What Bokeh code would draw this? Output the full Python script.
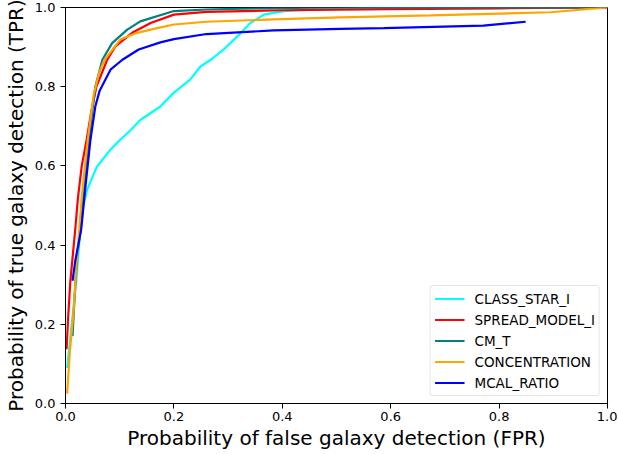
from bokeh.plotting import figure
from bokeh.models import Range1d, FixedTicker, PrintfTickFormatter, Legend, LegendItem
from bokeh.embed import file_html
from bokeh.resources import INLINE

# ROC curves
class_star_fpr = [0.003, 0.01, 0.02, 0.025, 0.031, 0.04, 0.058, 0.083, 0.101, 0.12, 0.138, 0.175, 0.2, 0.23, 0.249, 0.268, 0.292, 0.317, 0.341, 0.366, 0.403, 0.465, 0.55, 0.7, 1.0]
class_star_tpr = [0.09, 0.18, 0.31, 0.40, 0.489, 0.54, 0.598, 0.641, 0.666, 0.69, 0.716, 0.75, 0.785, 0.818, 0.851, 0.868, 0.894, 0.927, 0.961, 0.982, 0.991, 0.995, 0.998, 0.999, 1.0]

spread_fpr = [0.002, 0.005, 0.009, 0.018, 0.023, 0.03, 0.039, 0.048, 0.057, 0.077, 0.092, 0.123, 0.157, 0.2, 0.26, 0.4, 0.6, 0.8, 1.0]
spread_tpr = [0.137, 0.22, 0.31, 0.44, 0.52, 0.60, 0.666, 0.74, 0.80, 0.868, 0.902, 0.936, 0.961, 0.982, 0.989, 0.993, 0.996, 0.998, 1.0]

cm_t_fpr = [0.013, 0.018, 0.022, 0.028, 0.035, 0.043, 0.055, 0.068, 0.086, 0.114, 0.138, 0.2, 0.26, 0.35, 0.5, 1.0]
cm_t_tpr = [0.17, 0.30, 0.38, 0.44, 0.56, 0.666, 0.80, 0.868, 0.91, 0.944, 0.965, 0.991, 0.995, 0.998, 1.0, 1.0]

conc_fpr = [0.003, 0.008, 0.015, 0.02, 0.03, 0.041, 0.052, 0.062, 0.072, 0.101, 0.132, 0.169, 0.2, 0.26, 0.384, 0.507, 0.673, 0.895, 1.0]
conc_tpr = [0.025, 0.13, 0.235, 0.345, 0.52, 0.666, 0.78, 0.835, 0.868, 0.919, 0.936, 0.948, 0.957, 0.964, 0.970, 0.975, 0.98, 0.988, 1.0]

mcal_fpr = [0.013, 0.018, 0.029, 0.037, 0.046, 0.055, 0.063, 0.083, 0.105, 0.135, 0.175, 0.2, 0.26, 0.384, 0.507, 0.587, 0.771, 0.849]
mcal_tpr = [0.31, 0.36, 0.44, 0.55, 0.666, 0.75, 0.79, 0.843, 0.868, 0.894, 0.912, 0.92, 0.933, 0.942, 0.946, 0.948, 0.954, 0.964]

series_names = ["CLASS_STAR_I", "SPREAD_MODEL_I", "CM_T", "CONCENTRATION", "MCAL_RATIO"]
series_colors = ["#00FFFF", "#FF0000", "#008080", "#FFA500", "#0000FF"]
series_x = [class_star_fpr, spread_fpr, cm_t_fpr, conc_fpr, mcal_fpr]
series_y = [class_star_tpr, spread_tpr, cm_t_tpr, conc_tpr, mcal_tpr]

tick_values = [0.0, 0.2, 0.4, 0.6, 0.8, 1.0]

FONT = "DejaVu Sans"

p = figure(width=617, height=452, output_backend="svg", toolbar_location=None,
           x_range=Range1d(0, 1), y_range=Range1d(0, 1),
           min_border_top=7, min_border_right=10, min_border_left=0, min_border_bottom=0)

p.xgrid.visible = False
p.ygrid.visible = False
p.outline_line_color = "black"
p.outline_line_width = 1
p.outline_line_alpha = 1

for ax in (p.xaxis[0], p.yaxis[0]):
    ax.ticker = FixedTicker(ticks=tick_values)
    ax.formatter = PrintfTickFormatter(format="%.1f")
    ax.major_tick_in = 0
    ax.major_tick_out = 5
    ax.minor_tick_in = 0
    ax.minor_tick_out = 0
    ax.axis_line_color = "black"
    ax.major_tick_line_color = "black"
    ax.major_label_text_font = FONT
    ax.major_label_text_font_size = "13px"
    ax.major_label_text_color = "black"
    ax.axis_label_text_font = FONT
    ax.axis_label_text_font_size = "20px"
    ax.axis_label_text_font_style = "normal"
    ax.axis_label_text_color = "black"

p.xaxis.major_label_standoff = 3
p.yaxis.major_label_standoff = 5
p.xaxis.axis_label = "Probability of false galaxy detection (FPR)"
p.yaxis.axis_label = "Probability of true galaxy detection (TPR)"
p.xaxis.axis_label_standoff = 2
p.yaxis.axis_label_standoff = 4

items = []
for name, col, xs, ys in zip(series_names, series_colors, series_x, series_y):
    r = p.line(xs, ys, line_color=col, line_width=2.2)
    items.append(LegendItem(label=name, renderers=[r]))

legend = Legend(items=items, location="bottom_right")
legend.label_text_font = FONT
legend.label_text_font_size = "13.5px"
legend.label_text_color = "black"
legend.glyph_width = 30
legend.glyph_height = 17
legend.label_height = 17
legend.spacing = 4
legend.padding = 4
legend.margin = 7
legend.label_standoff = 10
legend.border_line_color = "#cccccc"
legend.border_line_width = 1
legend.background_fill_alpha = 0.8
if hasattr(legend, "border_radius"):
    legend.border_radius = 3
p.add_layout(legend)

open("out.html", "w").write(file_html(p, INLINE))
